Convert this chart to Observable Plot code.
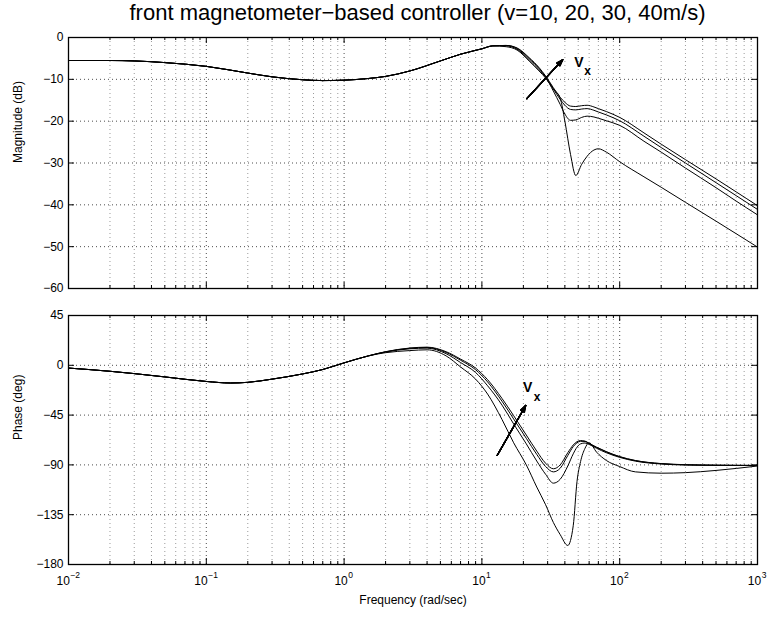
<!DOCTYPE html>
<html>
<head>
<meta charset="utf-8">
<script src="https://cdn.jsdelivr.net/npm/d3@7"></script>
<script src="https://cdn.jsdelivr.net/npm/@observablehq/plot@0.6"></script>
<style>
  html, body { margin: 0; padding: 0; background: #fff; }
  #wrap { position: relative; width: 770px; height: 617px; overflow: hidden;
          font-family: "Liberation Sans", Arial, Helvetica, sans-serif; }
  #title { position: absolute; left: 73px; width: 689px; top: 2px; text-align: center;
           font-size: 22px; line-height: 22px; color: #000; white-space: nowrap; }
  svg { position: absolute; left: 0; }
</style>
</head>
<body>
<div id="wrap">
  <div id="title">front magnetometer−based controller (v=10, 20, 30, 40m/s)</div>
</div>
<script>
// ---------------- data ----------------
const speeds = ["v=10", "v=20", "v=30", "v=40"];

const frequencyMag = [0.01,0.02,0.03,0.05,0.1,0.2,0.3,0.5,0.7,1,1.5,2,3,5,7,10,12,
  15,18,22,26,29,33,37,40,44,48,53,58,65,70,80,100,150,200,300,500,700,1000];
const magnitudeShared = [-5.5,-5.5,-5.6,-6.0,-6.9,-8.5,-9.4,-10.1,-10.3,-10.2,-9.8,-9.3,-8.0,-5.6,-4.0,-2.7,-2.0];
const magnitudeV10 = [-2.2,-3.0,-5.6,-8.0,-9.7,-12.3,-14.5,-20.0,-28.0,-33.0,-30.3,-28.4,-26.9,-26.6,-27.4,-29.7,-33.3,-35.8,-39.4,-43.9,-46.9,-50.1];
const magnitudeV20 = [-2.0,-2.8,-5.3,-7.7,-9.5,-12.8,-16.0,-18.3,-19.8,-19.7,-19.1,-18.8,-19.0,-19.3,-19.9,-21.0,-24.8,-27.4,-31.2,-35.9,-39.1,-42.4];
const magnitudeV30 = [-1.9,-2.6,-5.0,-7.4,-9.4,-12.3,-14.8,-16.2,-17.2,-17.3,-17.1,-17.0,-17.4,-17.8,-18.5,-19.9,-23.6,-26.3,-30.0,-34.7,-37.8,-41.1];
const magnitudeV40 = [-1.9,-2.5,-4.8,-7.2,-9.2,-12.0,-14.3,-15.5,-16.4,-16.5,-16.3,-16.2,-16.6,-17.0,-17.7,-19.1,-22.8,-25.5,-29.2,-33.8,-36.9,-40.2];

const frequencyPhase = [0.01,0.02,0.03,0.05,0.1,0.15,0.2,0.3,0.5,0.7,1,1.5,
  2,3,4,5.5,7,9,11,14,17,21,25,29,33,37,42,46,49,52,56,60,68,80,100,130,200,300,500,1000];
const phaseShared = [-2.5,-5.4,-7.5,-10.5,-14.6,-16.0,-15.4,-12.5,-7.8,-3.8,2.2,8.5];
const phaseV10 = [11.4,13.3,14.0,8.5,-1.5,-12.5,-26.0,-49.0,-70.0,-90.0,-110.0,-126.0,-142.0,-153.0,-162.8,-145.0,-105.0,-87.0,-75.0,-70.0,-78.5,-86.0,-91.5,-96.3,-97.5,-97.0,-95.0,-91.0];
const phaseV20 = [12.0,14.9,15.5,10.5,2.5,-6.5,-18.5,-36.0,-53.0,-71.0,-86.5,-98.5,-106.5,-103.0,-91.0,-80.0,-74.0,-71.0,-70.2,-71.5,-75.0,-79.0,-83.2,-86.6,-89.2,-90.1,-90.4,-90.5];
const phaseV30 = [12.2,15.4,16.1,11.6,4.6,-4.0,-15.0,-32.5,-48.5,-66.0,-80.5,-91.5,-96.3,-93.0,-81.5,-73.5,-70.0,-68.7,-68.8,-70.8,-74.3,-78.3,-82.7,-86.2,-88.9,-89.9,-90.3,-90.5];
const phaseV40 = [12.3,15.6,16.4,12.3,5.6,-2.5,-13.0,-30.0,-45.5,-63.0,-77.5,-88.5,-93.5,-90.0,-79.0,-72.0,-69.0,-68.0,-68.5,-70.5,-74.0,-78.0,-82.5,-86.0,-88.8,-89.8,-90.3,-90.5];

const magTicks = [0,-10,-20,-30,-40,-50,-60];
const phaseTicks = [45,0,-45,-90,-135,-180];
const xDecades = [0.01,0.1,1,10,100,1000];
const xExponents = ["−2","−1","0","1","2","3"];

// annotation: arrow (tail -> head) and "Vx" label, in data units
const arrowMag = [{f1: 21.2, y1: -14.6, f2: 38.6, y2: -5.3}];
const labelMagV = [{f: 50.5, y: -6.0}];
const labelMagX = [{f: 58.6, y: -8.1}];
const arrowPhase = [{f1: 12.9, y1: -81.5, f2: 20.8, y2: -36.3}];
const labelPhaseV = [{f: 21.5, y: -20.1}];
const labelPhaseX = [{f: 25.1, y: -29.1}];

// ---------------- helpers ----------------
const W = 770, mL = 68, mR = 13;
const xMinor = [];
for (let i = 0; i < xDecades.length - 1; i++)
  for (let m = 2; m <= 9; m++) xMinor.push(m * xDecades[i]);

function rowsOf(freqs, shared, seriesList) {
  const rows = [];
  seriesList.forEach((tail, i) => {
    const vals = shared.concat(tail);
    vals.forEach((v, j) => rows.push({f: freqs[j], v, s: speeds[i]}));
  });
  return rows;
}

function panel(cfg) {
  const fh = cfg.height - cfg.mt - cfg.mb;
  const fw = W - mL - mR;
  const grid = {stroke: "#000", strokeDasharray: "1,3"};
  const marks = [
    Plot.ruleX(xMinor, {x: d => d, ...grid, strokeOpacity: 0.4}),
    Plot.ruleX(xDecades, {x: d => d, ...grid, strokeOpacity: 0.7}),
    Plot.ruleY(cfg.yTicks, {y: d => d, ...grid, strokeOpacity: 0.7}),
    Plot.ruleX(xMinor, {x: d => d, insetBottom: fh - 3, stroke: "#000"}),
    Plot.ruleX(xMinor, {x: d => d, insetTop: fh - 3, stroke: "#000"}),
    Plot.ruleX(xDecades, {x: d => d, insetBottom: fh - 6, stroke: "#000"}),
    Plot.ruleX(xDecades, {x: d => d, insetTop: fh - 6, stroke: "#000"}),
    Plot.ruleY(cfg.yTicks, {y: d => d, insetRight: fw - 6, stroke: "#000"}),
    Plot.ruleY(cfg.yTicks, {y: d => d, insetLeft: fw - 6, stroke: "#000"}),
    Plot.line(cfg.rows, {x: "f", y: "v", z: "s", curve: "monotone-x", stroke: "#000", strokeWidth: 1}),
    Plot.frame({stroke: "#000", strokeWidth: 1.3}),
    Plot.text([cfg.ylabel], {frameAnchor: "left", dx: -50, rotate: -90, text: d => d, fontSize: 12}),
    Plot.text(cfg.labV, {x: "f", y: "y", text: () => "V", fontSize: 14, fontWeight: "bold"}),
    Plot.text(cfg.labX, {x: "f", y: "y", text: () => "x", fontSize: 12, fontWeight: "bold"})
  ];
  // arrow: shaft plus a filled-looking head built from several arrowheads of growing angle
  for (let a = 4; a <= 40; a += 4) {
    marks.push(Plot.arrow(cfg.arrow, {x1: "f1", y1: "y1", x2: "f2", y2: "y2",
      stroke: "#000", strokeWidth: 1.2, headLength: 8.5, headAngle: a}));
  }
  if (cfg.showX) {
    xDecades.forEach((d, i) => {
      const we = xExponents[i].length * 4.6;
      marks.push(Plot.text([d], {x: e => e, frameAnchor: "bottom", dy: 20, dx: 6 - we / 2,
        text: () => "10", textAnchor: "end", fontSize: 12}));
      marks.push(Plot.text([d], {x: e => e, frameAnchor: "bottom", dy: 13, dx: 6.5 - we / 2,
        text: () => xExponents[i], textAnchor: "start", fontSize: 8.5}));
    });
    marks.push(Plot.text(["Frequency (rad/sec)"], {frameAnchor: "bottom", dy: 39, text: d => d, fontSize: 12}));
  }
  const svg = Plot.plot({
    width: W, height: cfg.height,
    marginLeft: mL, marginRight: mR, marginTop: cfg.mt, marginBottom: cfg.mb,
    style: {fontFamily: "Liberation Sans, Arial, Helvetica, sans-serif", fontSize: "12px", color: "#000", background: "transparent", overflow: "visible"},
    x: {type: "log", domain: [0.01, 1000], axis: null},
    y: {domain: cfg.yDomain, ticks: cfg.yTicks, tickSize: 0, tickPadding: 5, label: null},
    marks
  });
  svg.style.position = "absolute";
  svg.style.left = "0px";
  svg.style.top = cfg.top + "px";
  document.getElementById("wrap").appendChild(svg);
}

panel({
  top: 28, height: 270, mt: 9, mb: 10,
  yDomain: [-60, 0], yTicks: magTicks, ylabel: "Magnitude (dB)",
  rows: rowsOf(frequencyMag, magnitudeShared, [magnitudeV10, magnitudeV20, magnitudeV30, magnitudeV40]),
  arrow: arrowMag, labV: labelMagV, labX: labelMagX, showX: false
});
panel({
  top: 305, height: 312, mt: 10, mb: 53,
  yDomain: [-180, 45], yTicks: phaseTicks, ylabel: "Phase (deg)",
  rows: rowsOf(frequencyPhase, phaseShared, [phaseV10, phaseV20, phaseV30, phaseV40]),
  arrow: arrowPhase, labV: labelPhaseV, labX: labelPhaseX, showX: true
});
</script>
</body>
</html>
